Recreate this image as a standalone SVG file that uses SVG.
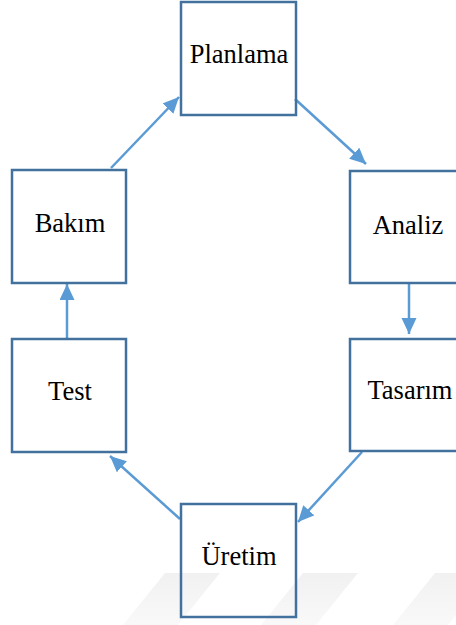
<svg xmlns="http://www.w3.org/2000/svg" width="456" height="625" viewBox="0 0 456 625">
  <style>
    .box { fill: none; stroke: #41719C; stroke-width: 2.5; }
    .lbl { font-family: "Liberation Serif", "Times New Roman", serif; font-size: 26.5px; fill: #000; text-anchor: middle; }
    .edge { stroke: #5B9BD5; stroke-width: 2.5; fill: none; marker-end: url(#arrow); }
  </style>
  <defs>
    <marker id="arrow" markerUnits="userSpaceOnUse" markerWidth="17" markerHeight="16" refX="16" refY="7.5" orient="auto">
      <path d="M0,0 L16,7.5 L0,15 z" fill="#5B9BD5"/>
    </marker>
    <linearGradient id="band" x1="0" y1="0" x2="0" y2="1">
      <stop offset="0" stop-color="#f1f1f1"/>
      <stop offset="1" stop-color="#f9f9f9"/>
    </linearGradient>
  </defs>
  <rect width="456" height="625" fill="#fff"/>

  <!-- faint background bands along the bottom -->
  <g id="bands" fill="url(#band)">
    <polygon points="165,573 220,573 178,625 123,625"/>
    <polygon points="303,573 358,573 316,625 261,625"/>
    <polygon points="435,573 490,573 448,625 393,625"/>
  </g>

  <g id="connectors">
    <line class="edge" x1="111" y1="168" x2="179" y2="97"/>
    <line class="edge" x1="295" y1="99" x2="366" y2="164"/>
    <line class="edge" x1="409" y1="283" x2="409" y2="334"/>
    <line class="edge" x1="362" y1="452" x2="298" y2="522"/>
    <line class="edge" x1="180" y1="519" x2="110" y2="456"/>
    <line class="edge" x1="67" y1="339" x2="67" y2="284"/>
  </g>

  <g id="planlama">
    <rect class="box" x="181" y="2" width="115" height="113"/>
    <text class="lbl" x="239" y="63">Planlama</text>
  </g>
  <g id="analiz">
    <rect class="box" x="350" y="171" width="115" height="112"/>
    <text class="lbl" x="408" y="234">Analiz</text>
  </g>
  <g id="tasarim">
    <rect class="box" x="350" y="339" width="115" height="112"/>
    <text class="lbl" x="410" y="399">Tasarım</text>
  </g>
  <g id="uretim">
    <rect class="box" x="181" y="504" width="115" height="113"/>
    <text class="lbl" x="239" y="565">Üretim</text>
  </g>
  <g id="test">
    <rect class="box" x="12" y="339" width="114" height="113"/>
    <text class="lbl" x="70" y="400">Test</text>
  </g>
  <g id="bakim">
    <rect class="box" x="12" y="170" width="114" height="113"/>
    <text class="lbl" x="70" y="232">Bakım</text>
  </g>
</svg>
